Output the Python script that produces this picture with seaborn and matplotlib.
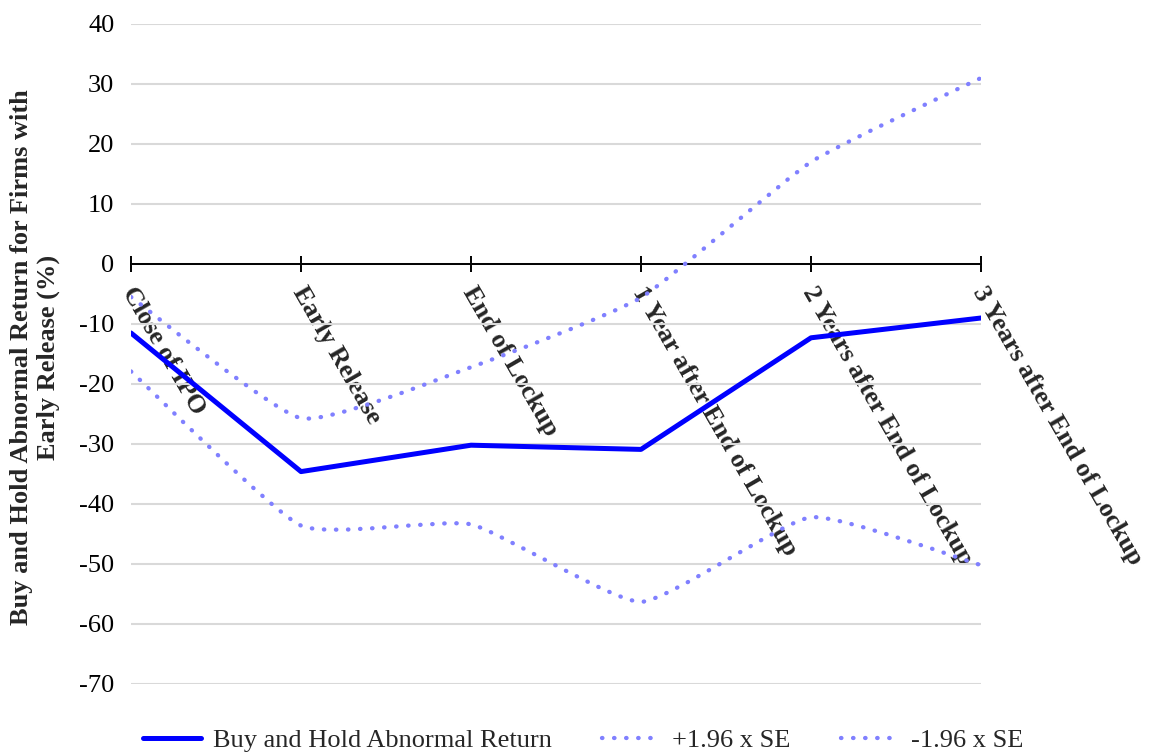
import numpy as np
import pandas as pd
import matplotlib
matplotlib.use("Agg")
import matplotlib.pyplot as plt
import matplotlib.transforms as mtransforms
from matplotlib.path import Path
from matplotlib.patches import PathPatch
from matplotlib.lines import Line2D
import seaborn as sns

# Event windows and returns (%)
categories = ["Close of IPO", "Early Release", "End of Lockup",
              "1 Year after End of Lockup", "2 Years after End of Lockup",
              "3 Years after End of Lockup"]
bhar = [-11.5, -34.6, -30.2, -30.9, -12.3, -9.0]
upper_ci = [-5.5, -25.7, -17.2, -5.6, 17.0, 31.0]
lower_ci = [-17.9, -43.6, -43.4, -56.3, -42.2, -50.2]
y_ticks = list(range(-70, 41, 10))

sns.set_theme(style="white")
plt.rcParams["font.family"] = ["Liberation Serif", "DejaVu Serif"]
FS = 19

fig = plt.figure(figsize=(11.55, 7.54), dpi=100)
W, H = 1155, 754
left, right, top, bottom = 131, 981, 24, 684
ax = fig.add_axes([left / W, 1 - bottom / H, (right - left) / W, (bottom - top) / H])

df = pd.DataFrame({"pos": np.arange(len(categories)), "bhar": bhar})

main_color = "#0000FF"
band_color = "#8080FF"
dots = (0, (0.1, 2.7))


def smooth_path(xs, ys, f=0.08):
    # Cubic Bezier through the points with short tangent arms (lightly smoothed line)
    pts = np.column_stack([xs, ys]).astype(float)
    n = len(pts)
    verts = [pts[0]]
    codes = [Path.MOVETO]
    for i in range(n - 1):
        p0 = pts[i - 1] if i > 0 else pts[i]
        p1 = pts[i]
        p2 = pts[i + 1]
        p3 = pts[i + 2] if i + 2 < n else pts[i + 1]
        c1 = p1 + (p2 - p0) * f
        c2 = p2 - (p3 - p1) * f
        verts += [c1, c2, p2]
        codes += [Path.CURVE4] * 3
    return Path(verts, codes)


for series in (upper_ci, lower_ci):
    patch = PathPatch(smooth_path(df["pos"], series), facecolor="none",
                      edgecolor=band_color, lw=3.1, linestyle=dots,
                      capstyle="round", zorder=2)
    ax.add_patch(patch)

sns.lineplot(data=df, x="pos", y="bhar", ax=ax, color=main_color, lw=3.6,
             zorder=3, legend=False)

ax.set_xlim(0, len(categories) - 1)
ax.set_ylim(-70, 40)
ax.set_yticks(y_ticks)
ax.set_yticklabels([str(v) for v in y_ticks], fontsize=FS)
ax.yaxis.grid(True, color="#D9D9D9", lw=1.5)
ax.set_axisbelow(True)

for s in ("left", "right", "top"):
    ax.spines[s].set_visible(False)
ax.spines["bottom"].set_position(("data", 0))
ax.spines["bottom"].set_color("black")
ax.spines["bottom"].set_linewidth(1.4)
ax.spines["bottom"].set_zorder(1)

ax.set_xticks(np.arange(len(categories)))
ax.set_xticklabels(categories, rotation=-60, rotation_mode="anchor",
                   ha="left", va="top", fontweight="bold", fontsize=FS)
ax.tick_params(axis="x", direction="inout", length=11, width=1.4, color="black",
               pad=8, bottom=True)
ax.tick_params(axis="y", length=0, pad=12, labelcolor="black")

# nudge the slanted category labels a little to the right
shift = mtransforms.ScaledTranslation(7 / 100, 0, fig.dpi_scale_trans)
for lab in ax.get_xticklabels():
    lab.set_transform(lab.get_transform() + shift)

ax.set_xlabel("")
ax.set_ylabel("Buy and Hold Abnormal Return for Firms with\nEarly Release (%)",
              fontweight="bold", fontsize=FS, linespacing=1.15)
ax.yaxis.set_label_coords(-0.084, 0.495)

handles = [
    Line2D([], [], color=main_color, lw=3.6),
    Line2D([], [], color=band_color, lw=3.1, linestyle=dots, dash_capstyle="round"),
    Line2D([], [], color=band_color, lw=3.1, linestyle=dots, dash_capstyle="round"),
]
fig.legend(handles, ["Buy and Hold Abnormal Return", "+1.96 x SE", "-1.96 x SE"],
           loc="center", bbox_to_anchor=(0.505, 1 - 740 / H), ncol=3, frameon=False,
           fontsize=FS, handlelength=2.2, handletextpad=0.45, columnspacing=1.9,
           borderaxespad=0, borderpad=0)

fig.savefig("out.png", dpi=100)
